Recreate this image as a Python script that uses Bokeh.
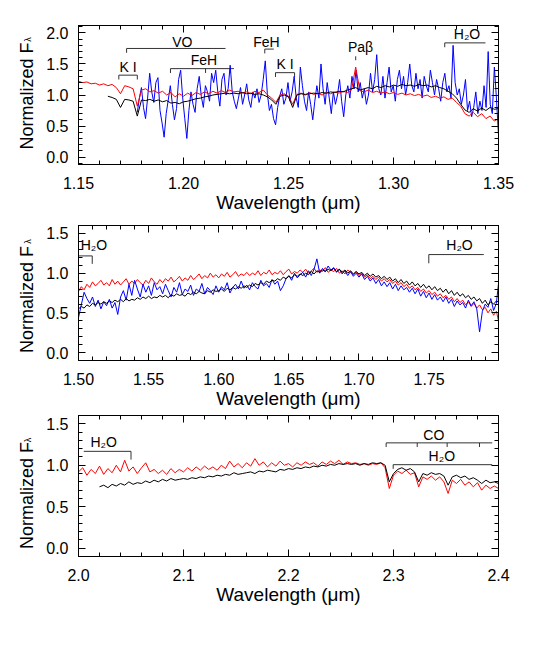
import numpy as np
from bokeh.plotting import figure
from bokeh.layouts import column, row
from bokeh.models import Range1d, LinearAxis, FixedTicker, PrintfTickFormatter, Label
from bokeh.core.properties import value
from bokeh.embed import file_html
from bokeh.resources import INLINE

FONT = "Liberation Sans"

# ---------------- Panel 1 (J band) ----------------
red1_start, red1_end = 1.150, 1.350
red1 = [1.22, 1.20, 1.21, 1.18, 1.19, 1.16, 1.18, 1.15, 1.17, 1.12,
        1.02, 1.15, 1.13, 1.10, 0.82, 1.08, 1.10, 1.05, 1.07, 1.03,
        1.06, 1.00, 1.04, 0.97, 1.02, 0.98, 1.03, 0.99, 1.04, 1.01,
        1.05, 1.02, 1.06, 1.03, 1.07, 1.04, 1.08, 1.05, 1.06, 1.03,
        1.05, 1.02, 1.06, 1.04, 1.08, 1.00, 0.95, 0.88, 1.00, 1.02,
        0.98, 0.85, 1.01, 1.03, 1.00, 1.04, 1.01, 1.03, 1.00, 1.04,
        1.02, 1.05, 1.03, 1.06, 1.04, 1.08, 1.45, 1.07, 1.05, 1.08,
        1.04, 1.06, 1.03, 1.05, 1.02, 1.04, 1.01, 1.03, 1.00, 1.02,
        0.99, 1.01, 0.98, 1.00, 0.96, 0.98, 0.95, 0.97, 0.93, 0.95,
        0.88, 0.82, 0.70, 0.66, 0.72, 0.65, 0.70, 0.62, 0.66, 0.58,
        0.62]

black1_start, black1_end = 1.164, 1.350
black1 = [0.98, 0.96, 0.93, 0.80, 0.93, 0.92, 0.90, 0.66, 0.92, 0.91,
          0.93, 0.90, 0.92, 0.89, 0.91, 0.87, 0.88, 0.86, 0.89, 0.90,
          0.92, 0.94, 0.95, 0.97, 0.98, 1.00, 1.01, 1.02, 1.03, 1.02,
          1.03, 1.02, 1.04, 1.02, 1.03, 1.01, 1.02, 1.00, 0.97, 0.92,
          0.85, 0.98, 1.00, 0.97, 0.80, 1.00, 1.02, 1.01, 1.02, 1.03,
          1.02, 1.04, 1.03, 1.05, 1.04, 1.06, 1.05, 1.08, 1.10, 1.12,
          1.08, 1.10, 1.12, 1.10, 1.14, 1.12, 1.15, 1.13, 1.16, 1.14,
          1.17, 1.15, 1.16, 1.14, 1.17, 1.15, 1.16, 1.13, 1.15, 1.12,
          1.10, 1.06, 1.02, 0.95, 0.85, 0.76, 0.72, 0.78, 0.74, 0.79,
          0.75, 0.80, 0.77, 0.78]

blue1_start, blue1_end = 1.178, 1.350
blue1 = [0.72, 0.95, 1.12, 0.80, 0.62, 0.95, 1.35, 1.05, 0.88, 1.20,
         1.28, 0.75, 0.55, 0.32, 0.70, 0.92, 1.15, 0.85, 0.60, 0.78,
         1.25, 1.40, 0.95, 0.62, 0.30, 0.75,
         1.05, 0.85, 0.72, 1.10, 1.30, 0.98, 0.80, 1.15, 1.05, 0.90,
         1.35, 1.20, 1.40, 1.05, 0.82, 1.25, 1.35, 1.00, 1.10, 1.48,
         1.05, 0.90,
         0.78, 0.95, 1.12, 0.85, 1.00, 1.18, 0.92, 0.80, 1.05, 0.95,
         1.10, 0.88, 1.00, 1.25, 1.55, 1.02, 0.75, 0.85, 0.62, 0.52,
         0.80, 0.98,
         1.10, 0.85, 0.95, 1.20, 0.90, 1.05, 1.30, 0.95, 0.80, 1.45,
         1.15, 0.90, 0.75, 1.05, 0.85, 0.60, 0.90, 1.15, 0.95, 1.50,
         1.10, 0.85,
         1.20, 0.95, 0.70, 1.05, 0.85, 1.00, 1.25, 0.90, 0.65, 1.00,
         1.15, 0.95, 1.30, 1.10, 1.40, 1.05, 1.20, 0.95, 1.10, 0.85,
         1.00, 1.35,
         1.05, 1.25, 1.65, 1.10, 1.00, 1.30, 0.95, 1.20, 1.45, 1.05,
         1.15, 0.90, 1.25, 1.40, 1.10, 1.30, 1.00, 1.20, 1.50, 1.15,
         1.05, 1.35,
         1.10, 1.25, 0.95, 1.30, 1.15, 1.05, 1.40, 1.20, 1.00, 1.25,
         1.10, 0.90, 1.20, 1.35, 1.05, 1.15, 0.95, 1.80, 1.20, 1.00,
         1.10, 0.85,
         1.00, 1.25, 0.75, 0.90, 0.65, 0.80, 1.05, 0.70, 0.90, 0.75,
         1.15, 0.80, 1.70, 0.85, 0.70, 1.45, 0.95, 0.35]

# ---------------- Panel 2 (H band) ----------------
red2_start, red2_end = 1.500, 1.800
red2 = [0.77, 0.83, 0.79, 0.86, 0.82, 0.89, 0.84, 0.87, 0.91, 0.85,
        0.88, 0.84, 0.92, 0.86, 0.90, 0.85, 0.89, 0.93, 0.86, 0.90,
        0.87, 0.92, 0.88, 0.85, 0.91, 0.87, 0.94, 0.89, 0.86, 0.92,
        0.88, 0.93, 0.90, 0.95, 0.89, 0.92, 0.96, 0.90, 0.94, 0.91,
        0.97, 0.92, 0.95, 0.99, 0.93, 0.97, 0.94, 1.00, 0.95, 0.98,
        0.94, 0.99, 0.96, 1.01, 0.95, 0.98, 1.02, 0.96, 0.99, 0.97,
        1.01, 0.97, 1.00, 0.98, 1.03, 0.97, 1.01, 0.99, 1.04, 0.98,
        1.01, 0.99, 1.03, 0.98, 1.02, 1.05, 0.99, 1.02, 1.00, 1.04,
        1.01, 1.05, 1.00, 1.03, 1.06, 1.01, 1.04, 1.02, 1.07, 1.01,
        1.04, 1.02, 1.06, 1.00, 1.03, 0.99, 1.04, 1.01, 0.98, 1.02,
        0.97, 1.00, 0.95, 0.98, 0.93, 0.96, 0.92, 0.95, 0.90, 0.93,
        0.89, 0.92, 0.87, 0.90, 0.85, 0.88, 0.83, 0.86, 0.81, 0.84,
        0.79, 0.82, 0.77, 0.80, 0.75, 0.78, 0.73, 0.76, 0.71, 0.74,
        0.69, 0.72, 0.67, 0.70, 0.64, 0.68, 0.63, 0.66, 0.60, 0.64,
        0.58, 0.62, 0.56, 0.60, 0.54, 0.57, 0.50, 0.55, 0.47, 0.52,
        0.36]

black2_start, black2_end = 1.500, 1.800
black2 = [0.55, 0.58, 0.56, 0.60, 0.58, 0.62, 0.60, 0.63, 0.61, 0.64,
          0.62, 0.65, 0.63, 0.66, 0.64, 0.67, 0.64, 0.68, 0.65, 0.67,
          0.66, 0.69, 0.67, 0.70, 0.68, 0.71, 0.68, 0.70, 0.69, 0.72,
          0.70, 0.72, 0.69, 0.73, 0.71, 0.74, 0.72, 0.73, 0.71, 0.75,
          0.73, 0.76, 0.74, 0.77, 0.75, 0.74, 0.78, 0.76, 0.79, 0.77,
          0.78, 0.80, 0.77, 0.81, 0.79, 0.82, 0.80, 0.83, 0.81, 0.84,
          0.82, 0.85, 0.83, 0.87, 0.85, 0.88, 0.86, 0.90, 0.88, 0.91,
          0.90, 0.93, 0.91, 0.95, 0.93, 0.96, 0.94, 0.98, 0.96, 0.99,
          0.97, 1.00, 0.98, 1.02, 0.99, 1.03, 1.01, 1.04, 1.02, 1.05,
          1.03, 1.06, 1.02, 1.05, 1.01, 1.04, 1.00, 1.03, 0.99, 1.02,
          0.99, 1.01, 0.97, 1.00, 0.96, 0.99, 0.95, 0.97, 0.93, 0.96,
          0.92, 0.95, 0.90, 0.93, 0.88, 0.92, 0.87, 0.90, 0.85, 0.89,
          0.84, 0.87, 0.82, 0.86, 0.81, 0.84, 0.79, 0.83, 0.78, 0.81,
          0.76, 0.80, 0.74, 0.78, 0.72, 0.76, 0.71, 0.74, 0.69, 0.72,
          0.67, 0.70, 0.65, 0.68, 0.62, 0.66, 0.60, 0.64, 0.61, 0.65,
          0.63]

blue2_start, blue2_end = 1.500, 1.800
blue2 = [0.44, 0.60, 0.76, 0.68, 0.62, 0.70, 0.58, 0.66, 0.55, 0.64,
         0.59, 0.67, 0.56, 0.63, 0.48, 0.70, 0.78, 0.66, 0.86, 0.72,
         0.91, 0.80, 0.70, 0.86, 0.76, 0.84, 0.72, 0.88, 0.79, 0.83,
         0.74, 0.86, 0.78, 0.70, 0.82, 0.76, 0.88, 0.73, 0.80, 0.77,
         0.85, 0.72, 0.80, 0.77, 0.87, 0.74, 0.82, 0.78, 0.73, 0.84,
         0.76, 0.83, 0.79, 0.88, 0.75, 0.82, 0.86, 0.80, 0.90, 0.81,
         0.85, 0.79, 0.88, 0.83, 0.80, 0.91, 0.84, 0.87, 0.82, 0.92,
         0.86, 0.90, 0.78, 0.84, 0.93, 0.97, 0.91, 1.00, 0.94, 0.98,
         1.01, 0.95, 1.03, 0.97, 1.05, 1.18, 1.00, 1.06, 1.02, 1.09,
         1.04, 1.07, 1.01, 1.05, 0.99, 1.03, 0.97, 1.02, 0.96, 1.00,
         0.95, 0.99, 0.92, 0.96, 0.90, 0.94, 0.87, 0.92, 0.84, 0.89,
         0.83, 0.88, 0.80, 0.86, 0.78, 0.84, 0.79, 0.82, 0.76, 0.81,
         0.74, 0.80, 0.71, 0.77, 0.69, 0.75, 0.67, 0.73, 0.66, 0.70,
         0.64, 0.70, 0.62, 0.67, 0.58, 0.65, 0.60, 0.63, 0.56, 0.66,
         0.59, 0.64, 0.55, 0.26, 0.52, 0.61, 0.57, 0.68, 0.53, 0.62,
         0.95]

# ---------------- Panel 3 (K band) ----------------
red3_start, red3_end = 2.000, 2.400
red3 = [0.92, 0.97, 0.88, 0.95, 0.90, 0.99, 0.89, 0.96, 0.91, 1.00,
        0.92, 1.06, 0.93, 0.98, 0.90, 0.97, 1.03, 0.92, 0.95, 0.90,
        0.94, 0.89, 0.96, 0.91, 0.95, 0.92, 0.97, 0.93, 0.98, 0.94,
        0.99, 0.95, 0.98, 0.94, 1.00, 0.96, 1.05, 0.98, 1.02, 0.97,
        1.03, 0.99, 1.08, 1.00, 1.04, 0.98, 1.03, 0.99, 1.05, 1.00,
        1.02, 0.98, 1.03, 1.00, 1.04, 1.01, 1.03, 0.99, 1.04, 1.01,
        1.05, 1.02, 1.06, 1.01, 1.04, 1.02, 1.03, 1.01, 1.02, 1.00,
        1.02, 1.01, 1.03, 0.97, 0.72, 0.88, 0.93, 0.90, 0.94, 0.89,
        0.91, 0.74, 0.86, 0.83, 0.87, 0.82, 0.86, 0.80, 0.66, 0.82,
        0.78, 0.83, 0.76, 0.80, 0.74, 0.79, 0.70, 0.76, 0.72, 0.75,
        0.72]

black3_start, black3_end = 2.020, 2.400
black3 = [0.74, 0.76, 0.73, 0.77, 0.75, 0.78, 0.76, 0.80, 0.77, 0.79,
          0.78, 0.81, 0.79, 0.82, 0.80, 0.83, 0.81, 0.84, 0.82, 0.83,
          0.84, 0.83, 0.85, 0.84, 0.86, 0.85, 0.87, 0.86, 0.88, 0.87,
          0.89, 0.88, 0.91, 0.89, 0.90, 0.91, 0.92, 0.90, 0.93, 0.92,
          0.94, 0.93, 0.92, 0.95, 0.94, 0.96, 0.95, 0.97, 0.96, 0.98,
          0.97, 0.99, 0.98, 1.00, 0.99, 1.01, 1.00, 1.02, 1.01, 1.02,
          1.01, 1.02, 1.00, 1.02, 1.01, 1.03, 1.02, 1.03, 1.00, 0.80,
          0.90, 0.95, 0.97, 0.94, 0.96, 0.92, 0.80, 0.90, 0.88, 0.91,
          0.89, 0.90, 0.87, 0.76, 0.86, 0.88, 0.85, 0.87, 0.83, 0.85,
          0.82, 0.78, 0.82, 0.79, 0.80, 0.78]

# ---------------- Tick values ----------------
x1_ticks = [1.15, 1.20, 1.25, 1.30, 1.35]
x2_ticks = [1.50, 1.55, 1.60, 1.65, 1.70, 1.75]
x3_ticks = [2.0, 2.1, 2.2, 2.3, 2.4]
y1_ticks = [0.0, 0.5, 1.0, 1.5, 2.0]
y23_ticks = [0.0, 0.5, 1.0, 1.5]

# ---------------- Feature annotations ----------------
features1 = [
    dict(text="K I", tx=1.1736, ty=1.45, x0=1.1692, x1=1.1780, y=1.32, ticks=[1.1692, 1.1780], dy=0.07),
    dict(text="VO", tx=1.1994, ty=1.86, x0=1.1729, x1=1.2200, y=1.75, ticks=[1.1729], dy=0.07),
    dict(text="FeH", tx=1.2097, ty=1.56, x0=1.1938, x1=1.2240, y=1.425, ticks=[1.1938, 1.2105, 1.2222], dy=0.07),
    dict(text="FeH", tx=1.2395, ty=1.86, x0=1.2387, x1=1.2430, y=1.74, ticks=[1.2387], dy=0.07),
    dict(text="K I", tx=1.2484, ty=1.50, x0=1.2438, x1=1.2529, y=1.36, ticks=[1.2438, 1.2529], dy=0.07),
    dict(text="Paβ", tx=1.2843, ty=1.77, x0=1.2820, x1=1.2820, y=1.624, ticks=[1.2820], dy=0.064),
    dict(text="H₂O", tx=1.3350, ty=1.99, x0=1.3244, x1=1.3438, y=1.84, ticks=[1.3244], dy=0.07),
]
features2 = [
    dict(text="H₂O", tx=1.5110, ty=1.35, x0=1.5000, x1=1.5098, y=1.217, ticks=[1.5098], dy=0.10),
    dict(text="H₂O", tx=1.7717, ty=1.35, x0=1.7498, x1=1.7890, y=1.234, ticks=[1.7498], dy=0.11),
]
features3 = [
    dict(text="H₂O", tx=2.024, ty=1.28, x0=2.005, x1=2.050, y=1.168, ticks=[2.050], dy=0.10),
    dict(text="CO", tx=2.3384, ty=1.36, x0=2.293, x1=2.394, y=1.27, ticks=[2.293, 2.3226, 2.3511, 2.3819], dy=0.05),
    dict(text="H₂O", tx=2.346, ty=1.116, x0=2.2997, x1=2.394, y=1.007, ticks=[2.2997], dy=0.05),
]


def grid(start, end, vals):
    return np.linspace(start, end, len(vals))


def minor(major_step, lo, hi, n=5):
    step = major_step / n
    k0 = int(np.ceil(lo / step - 1e-9))
    k1 = int(np.floor(hi / step + 1e-9))
    return [round(k * step, 6) for k in range(k0, k1 + 1)]


def style_axis(ax):
    ax.axis_line_color = "black"
    ax.major_tick_line_color = "black"
    ax.minor_tick_line_color = "black"
    ax.major_tick_in = 7
    ax.major_tick_out = 0
    ax.minor_tick_in = 4
    ax.minor_tick_out = 0
    ax.major_label_text_font = FONT
    ax.major_label_text_color = "black"
    ax.major_label_text_font_size = "16px"


def tick_only_axes(p, side, majors, minors):
    # axes with ticks only (no labels) for the top / right frame edges
    for positions, length in ((minors, 4), (majors, 7)):
        ax = LinearAxis(ticker=FixedTicker(ticks=[], minor_ticks=positions))
        ax.axis_line_color = "black"
        ax.minor_tick_line_color = "black"
        ax.major_tick_line_color = None
        ax.minor_tick_in = length
        ax.minor_tick_out = 0
        ax.major_tick_in = 0
        ax.major_tick_out = 0
        ax.major_label_standoff = 0
        p.add_layout(ax, side)


FRAME_W = 420
LEFT = 38
LABEL_W = 40


def make_panel(xr, yr, frame_h, top, bottom, xticks, xstep, xfmt, yticks, ystep, feats):
    h = top + frame_h + bottom
    p = figure(width=LEFT + FRAME_W + 30, height=h,
               x_range=Range1d(*xr), y_range=Range1d(*yr),
               output_backend="svg", toolbar_location=None,
               x_axis_type=None, y_axis_type=None,
               min_border_left=LEFT, min_border_right=30,
               min_border_top=top, min_border_bottom=bottom)
    p.outline_line_color = "black"
    p.outline_line_width = 1
    xm = minor(xstep, xr[0], xr[1])
    ym = minor(ystep, yr[0], yr[1])

    axb = LinearAxis(ticker=FixedTicker(ticks=xticks, minor_ticks=xm),
                     formatter=PrintfTickFormatter(format=xfmt))
    style_axis(axb)
    axb.major_label_standoff = 12
    axb.axis_label = "Wavelength (μm)"
    axb.axis_label_text_font = FONT
    axb.axis_label_text_font_size = "19px"
    axb.axis_label_text_font_style = "normal"
    axb.axis_label_text_color = "black"
    axb.axis_label_standoff = 0
    p.add_layout(axb, "below")

    axl = LinearAxis(ticker=FixedTicker(ticks=yticks, minor_ticks=ym),
                     formatter=PrintfTickFormatter(format="%.1f"))
    style_axis(axl)
    axl.major_label_standoff = 10
    p.add_layout(axl, "left")

    tick_only_axes(p, "above", xticks, xm)
    tick_only_axes(p, "right", yticks, ym)

    xs, ys = [], []
    for f in feats:
        if f["x1"] > f["x0"]:
            xs.append([f["x0"], f["x1"]])
            ys.append([f["y"], f["y"]])
        for t in f["ticks"]:
            xs.append([t, t])
            ys.append([f["y"], f["y"] - f["dy"]])
        p.add_layout(Label(x=f["tx"], y=f["ty"], text=f["text"], text_font=FONT,
                           text_font_size="14px", text_color="black",
                           text_align="center", text_baseline="middle"))
    p.multi_line(xs, ys, line_color="#333333", line_width=1)
    return p


p1 = make_panel((1.15, 1.35), (-0.12, 2.12), 139, 25, 52,
                x1_ticks, 0.05, "%.2f", y1_ticks, 0.5, features1)
p1.line(grid(blue1_start, blue1_end, blue1), blue1, line_color="#0000ff", line_width=1)
p1.line(grid(red1_start, red1_end, red1), red1, line_color="#ff0000", line_width=1)
p1.line(grid(black1_start, black1_end, black1), black1, line_color="black", line_width=1)

p2 = make_panel((1.50, 1.7995), (-0.10, 1.60), 135, 9, 52,
                x2_ticks, 0.05, "%.2f", y23_ticks, 0.5, features2)
p2.line(grid(red2_start, red2_end, red2), red2, line_color="#ff0000", line_width=1)
p2.line(grid(blue2_start, blue2_end, blue2), blue2, line_color="#0000ff", line_width=1)
p2.line(grid(black2_start, black2_end, black2), black2, line_color="black", line_width=1)

p3 = make_panel((2.0, 2.4), (-0.10, 1.60), 141, 3, 52,
                x3_ticks, 0.1, "%.1f", y23_ticks, 0.5, features3)
p3.line(grid(red3_start, red3_end, red3), red3, line_color="#ff0000", line_width=1)
p3.line(grid(black3_start, black3_end, black3), black3, line_color="black", line_width=1)

# ---------------- y-axis titles (Normalized F with subscript lambda) ----------------
total_h = p1.height + p2.height + p3.height
ylab_page_y = [95.5, 299.0, 495.0]      # vertical centres of "Normalized F" (page px)
lam_page_y = [39.0, 241.0, 439.5]       # vertical centres of the subscript (page px)
lab = figure(width=LABEL_W, height=total_h, x_range=Range1d(0, LABEL_W),
             y_range=Range1d(0, total_h), output_backend="svg", toolbar_location=None,
             x_axis_type=None, y_axis_type=None, min_border=0)
lab.outline_line_color = None
lab.text(x=[26.0] * 3, y=[total_h - v for v in ylab_page_y], text=["Normalized F"] * 3,
         angle=np.pi / 2, text_font=value(FONT), text_font_size=value("18px"),
         text_color="black", text_align="center", text_baseline="middle")
lab.text(x=[27.5] * 3, y=[total_h - v for v in lam_page_y], text=["λ"] * 3,
         angle=np.pi / 2, text_font=value(FONT), text_font_size=value("9px"),
         text_color="black", text_align="center", text_baseline="middle")

layout = row(lab, column(p1, p2, p3, spacing=0), spacing=0)
open("out.html", "w").write(file_html(layout, INLINE))
